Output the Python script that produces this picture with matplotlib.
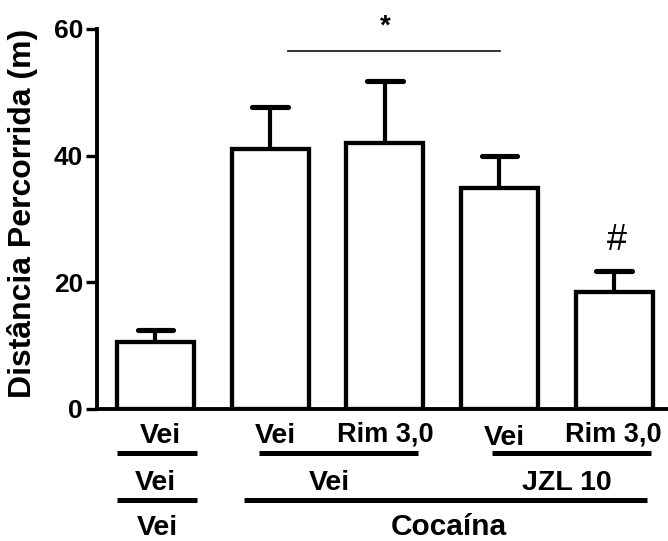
import matplotlib
matplotlib.use("Agg")
import matplotlib.pyplot as plt
from matplotlib.transforms import blended_transform_factory
import numpy as np

plt.rcParams['font.family'] = ['Liberation Sans', 'DejaVu Sans']
plt.rcParams['font.weight'] = 'bold'

# Data
groups = ["Vei/Vei/Vei", "Vei/Vei/Coc", "Rim3/Vei/Coc", "Vei/JZL10/Coc", "Rim3/JZL10/Coc"]
means = [10.6, 41.0, 42.0, 34.9, 18.5]
sems = [1.9, 6.7, 9.8, 5.1, 3.3]
yticks = [0, 20, 40, 60]
ylabel = "Distância Percorrida (m)"
row1 = ["Vei", "Vei", "Rim 3,0", "Vei", "Rim 3,0"]
row2 = ["Vei", "Vei", "JZL 10"]
row3 = ["Vei", "Cocaína"]
sig_star = "*"
sig_hash = "#"
sig_line_y = 56.5

W, H = 668, 541
fig = plt.figure(figsize=(W / 100, H / 100), dpi=100)
ax = fig.add_axes([97 / W, 1 - 409 / H, (668 - 97) / W, (409 - 29) / H])

def fy(py):
    return 1 - py / H
def dx(px):
    return (px - 155.5) / 115

x = np.arange(len(means))
bar_lw = 3.1
ax.bar(x, means, width=0.67, color='white', edgecolor='black', linewidth=bar_lw, zorder=2)
for xi, m, s in zip(x, means, sems):
    ax.plot([xi, xi], [m, m + s], color='black', lw=3.0, zorder=1, solid_capstyle='butt')
    ax.plot([xi - 0.155, xi + 0.155], [m + s, m + s], color='black', lw=3.7,
            solid_capstyle='round', zorder=1)

ax.set_xlim(-0.51, 4.47)
ax.set_ylim(0, 60)
ax.set_yticks(yticks)
ax.set_yticklabels([str(t) for t in yticks], fontsize=19, fontweight='bold')
ax.tick_params(axis='y', width=2.4, length=8, pad=2)
ax.set_xticks([])
for sp in ['top', 'right']:
    ax.spines[sp].set_visible(False)
for sp in ['left', 'bottom']:
    ax.spines[sp].set_linewidth(2.8)
fig.text(22.5 / W, fy(213), ylabel, rotation=90, ha='center', va='center',
         fontsize=23, fontweight='bold')

# significance annotations
ax.plot([dx(288), dx(501)], [sig_line_y, sig_line_y],
        color='#222222', lw=1.3, clip_on=False)
ax.text(dx(386), 60.3, sig_star, ha='center', va='center', fontsize=20, fontweight='bold')
ax.text(dx(618), (409 - 250) / 6.333, sig_hash, ha='center', va='baseline', fontsize=26,
        fontweight='normal')

# bottom labels
tr = blended_transform_factory(ax.transData, fig.transFigure)

row1_px = [160, 276, 386, 505, 615]
row1_py = [443, 443, 441, 445, 441]
row1_fs = [20.5, 20.5, 19.5, 20.5, 19.5]
for lab, px, py, f in zip(row1, row1_px, row1_py, row1_fs):
    ax.text(dx(px), fy(py), lab, transform=tr, ha='center', va='baseline', fontsize=f,
            fontweight='bold', clip_on=False)
for a, b in [(117, 197), (259, 419), (493, 652)]:
    ax.plot([dx(a), dx(b)], [fy(452.5), fy(452.5)], transform=tr, color='black', lw=3.6,
            clip_on=False, solid_capstyle='butt')
for lab, px in zip(row2, [155, 330, 568]):
    ax.text(dx(px), fy(490), lab, transform=tr, ha='center', va='baseline', fontsize=20.5,
            fontweight='bold', clip_on=False)
for a, b in [(117, 197), (244, 648)]:
    ax.plot([dx(a), dx(b)], [fy(499.5), fy(499.5)], transform=tr, color='black', lw=3.6,
            clip_on=False, solid_capstyle='butt')
for lab, px, f in zip(row3, [157, 450], [20.5, 21.5]):
    ax.text(dx(px), fy(535), lab, transform=tr, ha='center', va='baseline', fontsize=f,
            fontweight='bold', clip_on=False)

fig.savefig("out.png", dpi=100)
